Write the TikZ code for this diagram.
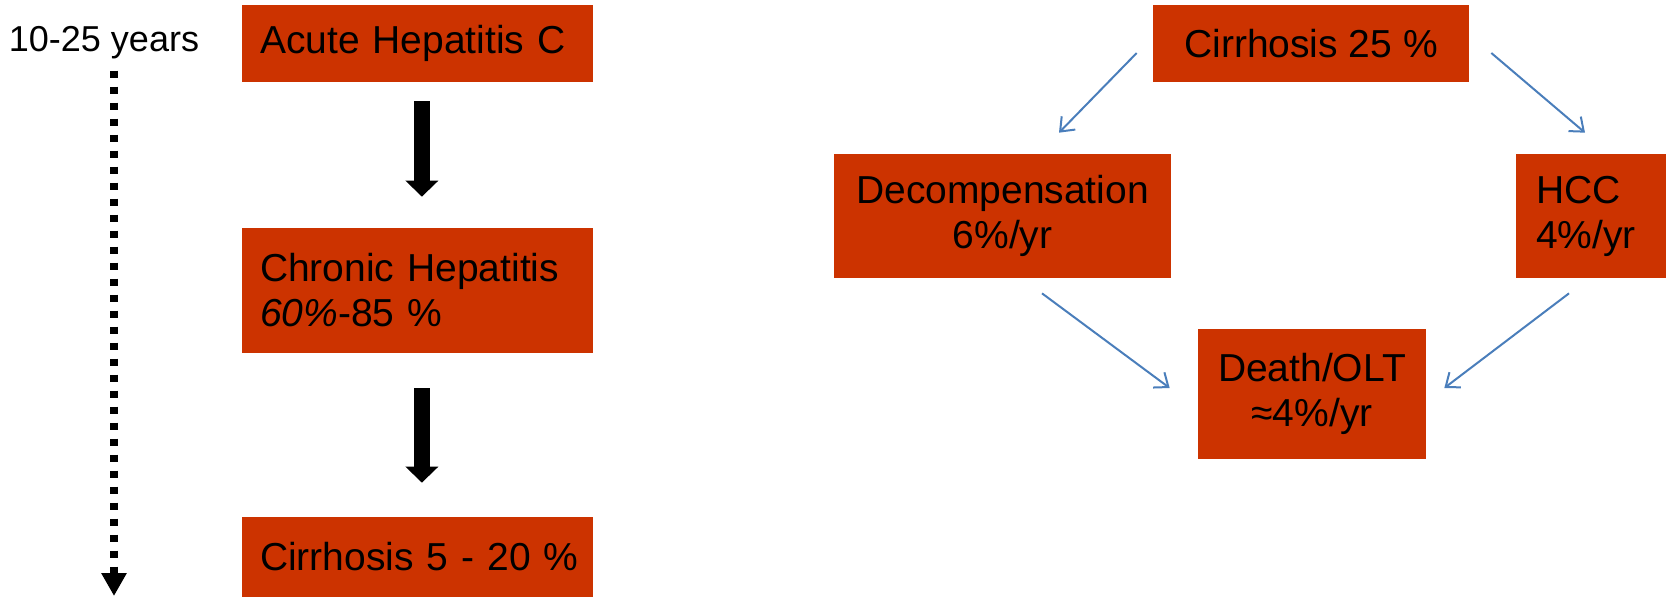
\documentclass[tikz,border=0pt]{standalone}
\usepackage{fontspec}
\setmainfont{Liberation Sans}
\usetikzlibrary{calc, arrows.meta, positioning}
\definecolor{boxred}{HTML}{CC3300}
\definecolor{linkblue}{HTML}{4A7EBB}

\begin{document}
\begin{tikzpicture}[x = 0.02cm, y = -0.02cm,
        box/.style = {fill = boxred, inner ysep = 0pt,
            font = \fontsize{22.2}{25.6}\selectfont},
        lbox/.style = {box, text width = 6.3cm, inner xsep = 0.36cm, align = left},
        cbox/.style = {box, align = center},
        bigarrow/.style = {line width = 0.31cm, -{Triangle[width = 0.64cm, length = 0.32cm]}},
        link/.style = {linkblue, line width = 0.04cm, -{Straight Barb[length = 0.24cm, width = 0.38cm]}},
        dotline/.style = {line width = 0.15cm, dash pattern = on 0.15cm off 0.17cm,
            -{Triangle[width = 0.48cm, length = 0.46cm]}}]

        \useasboundingbox (0,0) rectangle (1666,596);

        % time line
        \node[inner sep = 0pt, font = \fontsize{20.5}{24}\selectfont] (years) at (104,43) {10-25 years};
        \coordinate (tend) at (114,596);
        \draw[dotline, shorten <= 0.22cm] (tend |- years.south) -- (tend);

        % left column
        \node[lbox, minimum height = 1.54cm] (acute) at (417.5,43.5) {Acute Hepatitis C};
        \node[lbox, minimum height = 2.5cm] (chronic) at (417.5,290.5) {Chronic Hepatitis\\\textit{60\%}-85 \%};
        \node[lbox, minimum height = 1.6cm] (cirlow) at (417.5,557) {\mbox{Cirrhosis 5 - 20 \%}};

        \draw[bigarrow, shorten <= 0.38cm, shorten >= 0.62cm] ([xshift = 2.5]acute.south) -- ([xshift = 2.5]chronic.north);
        \draw[bigarrow, shorten <= 0.7cm, shorten >= 0.68cm] ([xshift = 2.5]chronic.south) -- ([xshift = 2.5]cirlow.north);

        % right part
        \node[cbox, minimum width = 6.32cm, minimum height = 1.54cm] (cirhigh) at (1311,43.5) {Cirrhosis 25 \%};
        \node[cbox, minimum width = 6.74cm, minimum height = 2.48cm] (decomp) at (1002.5,216) {Decompensation\\6\%/yr};
        \node[box, text width = 2.2cm, inner xsep = 0.4cm, align = left, minimum height = 2.48cm] (hcc) at (1591,216) {HCC\\4\%/yr};
        \node[cbox, minimum width = 4.56cm, minimum height = 2.6cm] (death) at (1312,394) {Death/OLT\\≈4\%/yr};

        \draw[link] ([shift = {(-16,9.5)}]cirhigh.west) -- ([shift = {(56.5,-21)}]decomp.north);
        \draw[link] ([shift = {(22,9.5)}]cirhigh.east) -- ([shift = {(-6,-21)}]hcc.north);
        \draw[link] ([shift = {(39.5,15)}]decomp.south) -- ([shift = {(-28,-6)}]death.west);
        \draw[link] ([shift = {(-22,15)}]hcc.south) -- ([shift = {(18,-6)}]death.east);
    \end{tikzpicture}
\end{document}
